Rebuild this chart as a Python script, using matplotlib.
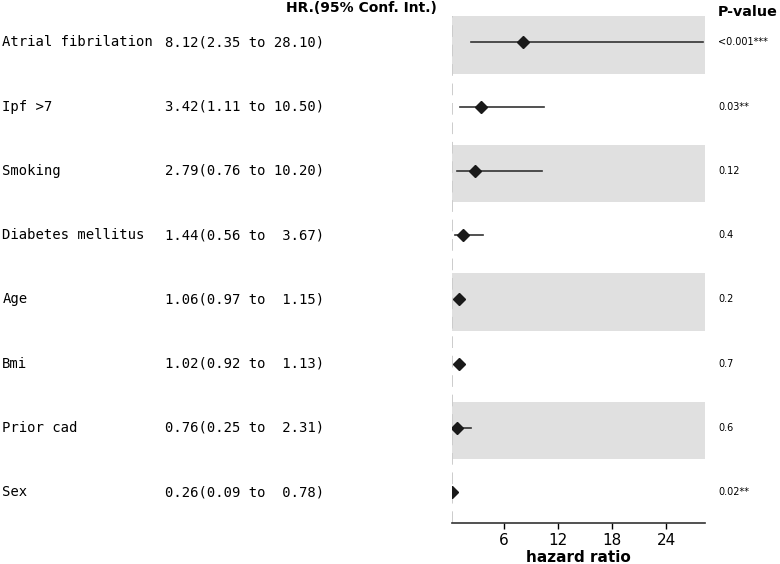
import matplotlib
matplotlib.use('Agg')
import matplotlib.pyplot as plt
from matplotlib.transforms import blended_transform_factory

# data
names = ['Atrial fibrilation', 'Ipf >7', 'Smoking', 'Diabetes mellitus',
         'Age', 'Bmi', 'Prior cad', 'Sex']
hr = [8.12, 3.42, 2.79, 1.44, 1.06, 1.02, 0.76, 0.26]
lower = [2.35, 1.11, 0.76, 0.56, 0.97, 0.92, 0.25, 0.09]
upper = [28.10, 10.50, 10.20, 3.67, 1.15, 1.13, 2.31, 0.78]
pvals = ['<0.001***', '0.03**', '0.12', '0.4', '0.2', '0.7', '0.6', '0.02**']

fig = plt.figure(figsize=(7.8, 5.64), dpi=100)
ax = fig.add_axes([0.5795, 0.0727, 0.3245, 0.8989])

n = len(names)
# shaded bands on every other row, CI lines and point estimates
for i in range(n):
    if i % 2 == 0:
        ax.axhspan(i - 0.41, i + 0.49, color='#e0e0e0', zorder=0, lw=0)
    ax.plot([lower[i], upper[i]], [i, i], color='#333333', lw=1.2, zorder=2)
    ax.plot(hr[i], i, marker='D', color='#1a1a1a', markersize=6, zorder=3)

ax.set_xlim(0.26, 28.3)
ax.set_ylim(n - 0.52, -0.41)
ax.axvline(0.26, color='#cccccc', ls=(0, (6, 4)), lw=1.4, zorder=1)

# text columns to the left and right of the plot
trans = blended_transform_factory(fig.transFigure, ax.transData)
for i in range(n):
    fig.text(0.003, i, names[i], transform=trans, family='DejaVu Sans Mono',
             fontsize=10, va='center', ha='left')
    fig.text(0.211, i, f"{hr[i]:.2f}({lower[i]:.2f} to {upper[i]:5.2f})",
             transform=trans, family='DejaVu Sans Mono', fontsize=10,
             va='center', ha='left')
    fig.text(0.921, i, pvals[i], transform=trans, fontsize=7,
             va='center', ha='left')

fig.text(0.367, 0.985, 'HR.(95% Conf. Int.)', fontsize=10, fontweight='bold',
         va='center', ha='left')
fig.text(0.920, 0.978, 'P-value', fontsize=10.3, fontweight='bold',
         va='center', ha='left')

ax.set_xticks([6, 12, 18, 24])
ax.set_yticks([])
ax.tick_params(axis='x', labelsize=11, length=4, width=1)
ax.set_xlabel('hazard ratio', fontsize=11, fontweight='bold', labelpad=1)
for s in ['top', 'right', 'left']:
    ax.spines[s].set_visible(False)
ax.spines['bottom'].set_linewidth(1.2)
ax.spines['bottom'].set_color('#333333')

plt.savefig('out.png', dpi=100)
